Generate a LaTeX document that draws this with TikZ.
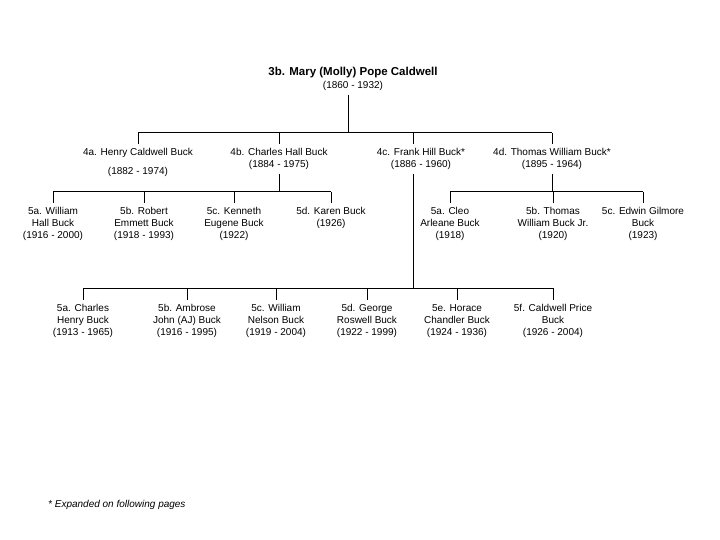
\documentclass[tikz,border=0pt]{standalone}
\usepackage{fontspec}
\setmainfont{Liberation Sans}
\usetikzlibrary{positioning}

\begin{document}
\begin{tikzpicture}[x=1pt, y=-1pt,
                person/.style={
                    anchor=north,
                    align=center,
                    inner sep=4pt,
                    font=\fontsize{10}{12}\selectfont
                },
                tree/.style={
                    draw=black,
                    line width=1pt
                },
                note/.style={
                    anchor=west,
                    inner sep=0pt,
                    font=\fontsize{10}{12}\selectfont\itshape
                }
            ]
            \useasboundingbox (0,0) rectangle (720,540);

            % --- Ebenen der Verbindungslinien ---
            \coordinate (bus4) at (0,133);
            \coordinate (bus5) at (0,192);
            \coordinate (bus6) at (0,288);

            % --- Wurzel ---
            \node[person, anchor=south] (mary) at (353,95) {
                {\bfseries\fontsize{11.5}{14}\selectfont 3b. Mary (Molly) Pope Caldwell}\\[1pt]
                (1860 - 1932)
            };
            \coordinate (marydrop) at ([xshift=-5pt]mary.south);
            \draw[tree] (marydrop) -- (marydrop |- bus4);

            % --- Generation 4 ---
            \node[person] (henry) at (138,144) {4a. Henry Caldwell Buck\\[7pt](1882 - 1974)};
            \node[person] (charles) at (279,144) {4b. Charles Hall Buck\\(1884 - 1975)};
            \node[person] (frank) at (421,144) {4c. Frank Hill Buck*\\(1886 - 1960)};
            \node[person] (thomas) at (552,144) {4d. Thomas William Buck*\\(1895 - 1964)};
            \coordinate (frankdrop) at ([xshift=-8pt]frank.north);

            \draw[tree] (henry.north |- bus4) -- (thomas.north |- bus4);
            \foreach \p in {henry, charles, thomas} {
                \draw[tree] (\p.north |- bus4) -- (\p.north);
            }
            \draw[tree] (frankdrop |- bus4) -- (frankdrop);

            % --- Kinder von 4b ---
            \node[person] (william) at (53,203) {5a. William\\Hall Buck\\(1916 - 2000)};
            \node[person] (robert) at (144,203) {5b. Robert\\Emmett Buck\\(1918 - 1993)};
            \node[person] (kenneth) at (234,203) {5c. Kenneth\\Eugene Buck\\(1922)};
            \node[person] (karen) at (331,203) {5d. Karen Buck\\(1926)};

            % --- Kinder von 4d ---
            \node[person] (cleo) at (450,203) {5a. Cleo\\Arleane Buck\\(1918)};
            \node[person] (thomasjr) at (553,203) {5b. Thomas\\William Buck Jr.\\(1920)};
            \node[person] (edwin) at (643,203) {5c. Edwin Gilmore\\Buck\\(1923)};

            \draw[tree] (charles.south) -- (charles.south |- bus5);
            \draw[tree] (thomas.south) -- (thomas.south |- bus5);
            \draw[tree] (william.north |- bus5) -- (karen.north |- bus5);
            \draw[tree] (cleo.north |- bus5) -- (edwin.north |- bus5);
            \foreach \p in {william, robert, kenneth, karen, cleo, thomasjr, edwin} {
                \draw[tree] (\p.north |- bus5) -- (\p.north);
            }

            % --- Kinder von 4c ---
            \node[person] (charlesh) at (83,300) {5a. Charles\\Henry Buck\\(1913 - 1965)};
            \node[person] (ambrose) at (187,300) {5b. Ambrose\\John (AJ) Buck\\(1916 - 1995)};
            \node[person] (williamn) at (276,300) {5c. William\\Nelson Buck\\(1919 - 2004)};
            \node[person] (george) at (367,300) {5d. George\\Roswell Buck\\(1922 - 1999)};
            \node[person] (horace) at (457,300) {5e. Horace\\Chandler Buck\\(1924 - 1936)};
            \node[person] (caldwell) at (553,300) {5f. Caldwell Price\\Buck\\(1926 - 2004)};

            \draw[tree] (frankdrop |- frank.south) -- (frankdrop |- bus6);
            \draw[tree] (charlesh.north |- bus6) -- (caldwell.north |- bus6);
            \foreach \p in {charlesh, ambrose, williamn, george, horace, caldwell} {
                \draw[tree] (\p.north |- bus6) -- (\p.north);
            }

            % --- Fussnote ---
            \node[note] (footnote) at (48,505) {* Expanded on following pages};

        \end{tikzpicture}
\end{document}
